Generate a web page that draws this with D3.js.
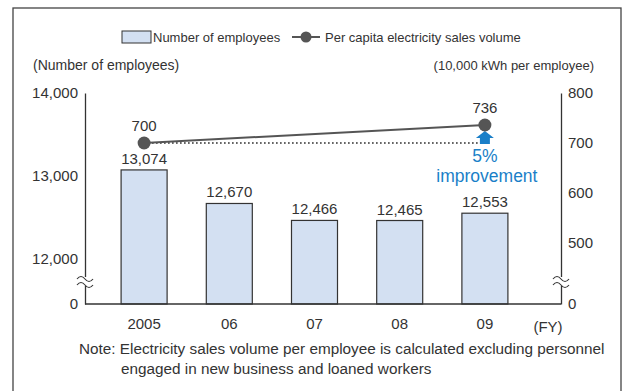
<!DOCTYPE html>
<html><head><meta charset="utf-8">
<script src="https://cdn.jsdelivr.net/npm/d3@7"></script>
<style>body{margin:0;background:#fff}svg{display:block}text{font-family:"Liberation Sans",Arial,sans-serif;fill:#333}</style>
</head><body><svg id="c" width="622" height="391"></svg>
<script>
const years = ["2005","06","07","08","09"];
const employees = [13074,12670,12466,12465,12553];
const perCapita = [700,null,null,null,736];
const leftTicks = [0,12000,13000,14000];
const rightTicks = [0,500,600,700,800];
const improvementText = ["5%","improvement"];

const svg = d3.select("#c");
const baseY = 304, topY = 93, xL = 85, xR = 561;

// frame
svg.append("rect").attr("x",13).attr("y",8).attr("width",608).attr("height",400)
  .attr("fill","none").attr("stroke","#444").attr("stroke-width",1.3);

const x = d3.scaleBand().domain(years).range([101.5,527.5]).paddingInner(0.46).paddingOuter(0.23);
const yL = d3.scaleLinear().domain([0,11460,14000]).range([baseY,baseY,topY]);
const yR = d3.scaleLinear().domain([0,378,800]).range([baseY,baseY,topY]);

// bars
svg.selectAll(".bar").data(employees).join("rect")
  .attr("x",(d,i)=>x(years[i])).attr("y",d=>yL(d))
  .attr("width",x.bandwidth()).attr("height",d=>baseY-yL(d))
  .attr("fill","#d3e0f2").attr("stroke","#333").attr("stroke-width",1.2);
svg.selectAll(".bl").data(employees).join("text")
  .attr("x",(d,i)=>x(years[i])+x.bandwidth()/2).attr("y",d=>yL(d)-6)
  .attr("text-anchor","middle").attr("font-size",15).text(d=>d3.format(",")(d));

// axes
const axL = svg.append("g").attr("transform",`translate(${xL},0)`)
  .call(d3.axisLeft(yL).tickValues(leftTicks).tickSize(0).tickPadding(7).tickFormat(d3.format(",")));
const axR = svg.append("g").attr("transform",`translate(${xR},0)`)
  .call(d3.axisRight(yR).tickValues(rightTicks).tickSize(0).tickPadding(7));
[axL,axR].forEach(a=>{a.select(".domain").attr("stroke","#333").attr("stroke-width",1.3);
  a.selectAll("text").attr("font-size",15).attr("fill","#333").attr("font-family","Liberation Sans, Arial, sans-serif");});
const axB = svg.append("g").attr("transform",`translate(0,${baseY})`)
  .call(d3.axisBottom(x).tickSize(0).tickPadding(14));
axB.select(".domain").attr("d",`M${xL},0H${xR}`).attr("stroke","#333").attr("stroke-width",1.3);
axB.selectAll("text").attr("font-size",15).attr("fill","#333").attr("font-family","Liberation Sans, Arial, sans-serif");
svg.append("text").attr("x",548).attr("y",baseY+28).attr("text-anchor","middle").attr("font-size",15).text("(FY)");

// axis breaks
[xL,xR].forEach(cx=>{
  svg.append("rect").attr("x",cx-2).attr("y",277).attr("width",4).attr("height",9).attr("fill","#fff");
  [0,6].forEach(dy=>{
    svg.append("path").attr("d",`M${cx-8},${279+dy} q4,-5 8,0 t8,0`)
      .attr("fill","none").attr("stroke","#333").attr("stroke-width",1.2);
  });
});

// axis titles
svg.append("text").attr("x",33).attr("y",70).attr("font-size",14).text("(Number of employees)");
svg.append("text").attr("x",594).attr("y",70).attr("text-anchor","end").attr("font-size",13).text("(10,000 kWh per employee)");

// line
const pts = perCapita.map((v,i)=>({v,i})).filter(d=>d.v!=null);
const cxp = d=>x(years[d.i])+x.bandwidth()/2;
svg.append("line").attr("x1",cxp(pts[0])).attr("x2",cxp(pts[1])-5)
  .attr("y1",yR(pts[0].v)).attr("y2",yR(pts[0].v))
  .attr("stroke","#555").attr("stroke-width",2).attr("stroke-dasharray","1.5,2.5");
svg.append("path").datum(pts).attr("d",d3.line().x(cxp).y(d=>yR(d.v)))
  .attr("fill","none").attr("stroke","#555").attr("stroke-width",2);
const ax = cxp(pts[1]);
svg.append("path").attr("d",`M${ax-5},${yR(pts[0].v)+1}V${yR(pts[1].v)+13}H${ax-9}L${ax},${yR(pts[1].v)+6}L${ax+9},${yR(pts[1].v)+13}H${ax+5}V${yR(pts[0].v)+1}Z`)
  .attr("fill","#1a7fc8");
svg.selectAll(".pt").data(pts).join("circle").attr("cx",cxp).attr("cy",d=>yR(d.v)).attr("r",6.5).attr("fill","#555");
svg.selectAll(".pl").data(pts).join("text").attr("x",cxp).attr("y",d=>yR(d.v)-12)
  .attr("text-anchor","middle").attr("font-size",15).text(d=>d.v);
svg.append("text").attr("x",ax).attr("y",162).attr("text-anchor","middle").attr("font-size",17.5).style("fill","#1a7fc8").text(improvementText[0]);
svg.append("text").attr("x",ax+2).attr("y",182).attr("text-anchor","middle").attr("font-size",17.5).style("fill","#1a7fc8").text(improvementText[1]);

// legend
svg.append("rect").attr("x",122).attr("y",31).attr("width",29).attr("height",12).attr("fill","#d3e0f2").attr("stroke","#333").attr("stroke-width",1);
svg.append("text").attr("x",153).attr("y",41.5).attr("font-size",13).text("Number of employees");
svg.append("line").attr("x1",292).attr("x2",320).attr("y1",37).attr("y2",37).attr("stroke","#555").attr("stroke-width",2);
svg.append("circle").attr("cx",306).attr("cy",37).attr("r",5.5).attr("fill","#555");
svg.append("text").attr("x",325).attr("y",41.5).attr("font-size",13).text("Per capita electricity sales volume");

// note
svg.append("text").attr("x",79).attr("y",354).attr("font-size",15.3).text("Note: Electricity sales volume per employee is calculated excluding personnel");
svg.append("text").attr("x",121).attr("y",374).attr("font-size",15.3).text("engaged in new business and loaned workers");
</script></body></html>
